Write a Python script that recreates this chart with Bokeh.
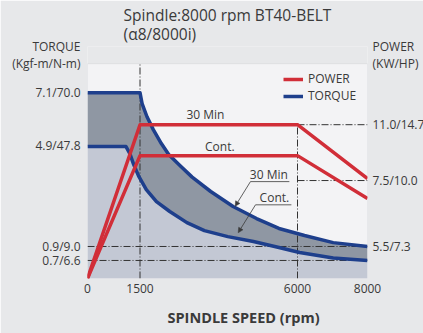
from bokeh.plotting import figure
from bokeh.models import (Range1d, LinearAxis, FixedTicker, Legend, LegendItem,
                          Arrow, NormalHead, Title, BoxAnnotation)
from bokeh.core.properties import value
from bokeh.embed import file_html
from bokeh.resources import INLINE

FONT = "Open Sans"
TXT = "#3a3a3a"
BLUE = "#1e3f8c"
RED = "#d12e38"
DASH = "#333333"
PAGE = "#e7e8ea"

# ---- data (schematic chart: y values are display levels, chart area = 0..100) ----
rpm_torque_30 = [0, 1500, 1560, 1700, 1880, 2110, 2320, 2640, 2990, 3520, 4160, 4830, 5470, 6200, 7020, 8000]
torque_30_level = [86.5, 86.5, 81.4, 75.3, 69.3, 62.8, 57.7, 52.6, 47.2, 40.5, 33.5, 27.9, 23.3, 20.0, 16.7, 14.9]

rpm_torque_cont = [0, 1100, 1210, 1320, 1470, 1680, 1970, 2350, 2840, 3340, 4010, 4740, 5470, 6060, 7020, 8000]
torque_cont_level = [61.4, 61.4, 58.1, 53.0, 47.4, 41.4, 35.8, 31.2, 26.0, 22.3, 19.5, 17.2, 14.4, 12.1, 9.5, 8.4]

rpm_power = [0, 1500, 6000, 8000]
power_30_level = [0, 71.6, 71.6, 46.5]
power_cont_level = [0, 57.2, 57.2, 37.2]

speed_ticks = [0, 1500, 6000, 8000]
torque_tick_levels = [86.5, 61.9, 14.9, 8.4]
torque_tick_labels = ["7.1/70.0", "4.9/47.8", "0.9/9.0", "0.7/6.6"]
power_tick_levels = [71.6, 45.6, 14.9]
power_tick_labels = ["11.0/14.7", "7.5/10.0", "5.5/7.3"]

# axis headings sit above the chart area, on the same axes
HEAD_LEVELS = [107.9, 99.99]
torque_head = ["TORQUE", "(Kgf-m/N-m)"]
power_head = ["POWER", "(KW/HP)"]

X_MAX = 8000
CHART_TOP = 100
Y_MAX = 108

p = figure(frame_width=280, frame_height=232, x_range=Range1d(0, X_MAX), y_range=Range1d(0, Y_MAX),
           output_backend="svg", toolbar_location=None,
           min_border_left=87, min_border_right=0, min_border_top=45, min_border_bottom=56,
           background_fill_color=PAGE, border_fill_color=PAGE)
p.title.visible = False
p.outline_line_color = None
p.grid.visible = False

# chart area
p.add_layout(BoxAnnotation(left=0, right=X_MAX, bottom=0, top=CHART_TOP,
                           fill_color="#f3f3f5", fill_alpha=1,
                           line_color="#c4c5c8", line_width=1, level="underlay"))

# ---- titles ----
title = Title(text="Spindle:8000 rpm BT40-BELT\n(α8/8000i)", align="center",
              text_font=FONT, text_font_size="15.5px", text_font_style="normal",
              text_color=TXT, text_line_height=0.86, standoff=3)
p.add_layout(title, "above")

xlabel = Title(text="SPINDLE SPEED (rpm)", align="left", offset=80, text_font=FONT,
               text_font_size="14.5px", text_font_style="bold", text_color=TXT, standoff=20)
p.add_layout(xlabel, "below")

# ---- fills ----
p.patch(rpm_torque_cont + [X_MAX, 0], torque_cont_level + [0, 0],
        fill_color="#c3c8d4", line_color=None)
p.patch(rpm_torque_30 + rpm_torque_cont[::-1], torque_30_level + torque_cont_level[::-1],
        fill_color="#8f97a3", line_color=None)

# ---- reference dash-dot lines ----
v1500, v6000 = speed_ticks[1], speed_ticks[2]
ref_x0 = [v1500, v6000, v6000, v6000, 0, 0]
ref_x1 = [v1500, v6000, X_MAX, X_MAX, X_MAX, X_MAX]
ref_y0 = [0, 0, power_tick_levels[0], power_tick_levels[1], torque_tick_levels[2], torque_tick_levels[3]]
ref_y1 = [CHART_TOP, power_tick_levels[0], power_tick_levels[0], power_tick_levels[1],
          torque_tick_levels[2], torque_tick_levels[3]]
p.segment(ref_x0, ref_y0, ref_x1, ref_y1, line_color=DASH, line_width=1, line_dash="7 2 1 2")

# ---- curves ----
r_t30 = p.line(rpm_torque_30, torque_30_level, line_color=BLUE, line_width=3.5, line_join="round")
p.line(rpm_torque_cont, torque_cont_level, line_color=BLUE, line_width=3.5, line_join="round")
r_p30 = p.line(rpm_power, power_30_level, line_color=RED, line_width=3.5, line_join="round")
p.line(rpm_power, power_cont_level, line_color=RED, line_width=3.5, line_join="round")

# ---- in-plot texts ----
def txt(x, y, s):
    p.text(x=[x], y=[y], text=[s], text_font=value(FONT), text_font_size=value("12px"),
           text_color=TXT, text_align="center", text_baseline="middle")

txt(3370, 76.5, "30 Min")
txt(3780, 61.6, "Cont.")
txt(5180, 48.6, "30 Min")
txt(5340, 37.9, "Cont.")

# callout underlines and leaders
p.segment([4656, 4800], [45.1, 34.3], [5767, 5825], [45.1, 34.3], line_color=TXT, line_width=0.8)
p.add_layout(Arrow(end=NormalHead(size=5, fill_color=TXT, line_color=TXT, line_width=0.5),
                   x_start=4656, y_start=45.1, x_end=4218, y_end=33.6,
                   line_color=TXT, line_width=0.8))
p.add_layout(Arrow(end=NormalHead(size=5, fill_color=TXT, line_color=TXT, line_width=0.5),
                   x_start=4800, y_start=34.3, x_end=4305, y_end=21.3,
                   line_color=TXT, line_width=0.8))

# ---- legend ----
legend = Legend(items=[LegendItem(label="POWER", renderers=[r_p30]),
                       LegendItem(label="TORQUE", renderers=[r_t30])],
                location=(196, 174), margin=0, padding=5, spacing=0,
                glyph_width=20, glyph_height=14, label_height=14, label_standoff=5,
                background_fill_alpha=0, border_line_color=None,
                label_text_font=FONT, label_text_font_size="12px", label_text_color=TXT)
p.add_layout(legend)

# ---- axes ----
xa = p.xaxis[0]
xa.ticker = FixedTicker(ticks=speed_ticks)
xa.major_label_standoff = 5

ya = p.yaxis[0]
ya.ticker = FixedTicker(ticks=HEAD_LEVELS + torque_tick_levels)
ya.major_label_overrides = dict(zip(HEAD_LEVELS + torque_tick_levels, torque_head + torque_tick_labels))
ya.major_label_standoff = 7

ra = LinearAxis(ticker=FixedTicker(ticks=HEAD_LEVELS + power_tick_levels),
                major_label_overrides=dict(zip(HEAD_LEVELS + power_tick_levels,
                                               power_head + power_tick_labels)),
                major_label_standoff=5)
p.add_layout(ra, "right")

for ax in (xa, ya, ra):
    ax.axis_line_color = None
    ax.major_tick_line_color = None
    ax.minor_tick_line_color = None
    ax.major_tick_out = 0
    ax.major_tick_in = 0
    ax.major_label_text_font = FONT
    ax.major_label_text_font_size = "12px"
    ax.major_label_text_color = TXT

open("out.html", "w").write(file_html(p, INLINE))
